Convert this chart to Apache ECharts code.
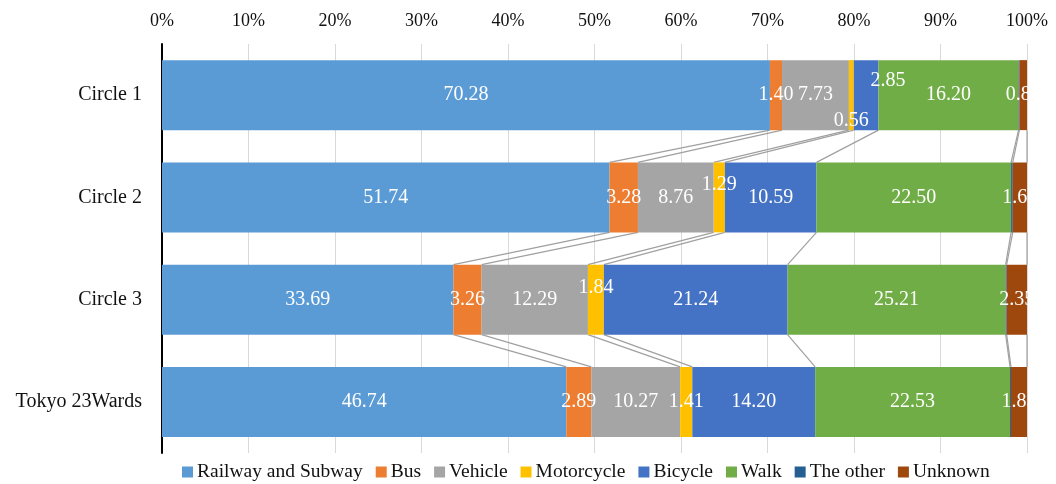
<!DOCTYPE html>
<html>
<head>
<meta charset="utf-8">
<script src="https://cdn.jsdelivr.net/npm/echarts@6/dist/echarts.min.js"></script>
<style>
  html, body { margin: 0; padding: 0; background: #fff; }
  #chart { width: 1056px; height: 484px; }
</style>
</head>
<body>
<div id="chart"></div>
<script>
// Modal share (%) by ring area
const categories = ['Circle 1', 'Circle 2', 'Circle 3', 'Tokyo 23Wards'];
const modes = ['Railway and Subway', 'Bus', 'Vehicle', 'Motorcycle', 'Bicycle', 'Walk', 'The other', 'Unknown'];

const railway    = [70.28, 51.74, 33.69, 46.74];
const bus        = [1.40, 3.28, 3.26, 2.89];
const vehicle    = [7.73, 8.76, 12.29, 10.27];
const motorcycle = [0.56, 1.29, 1.84, 1.41];
const bicycle    = [2.85, 10.59, 21.24, 14.20];
const walk       = [16.20, 22.50, 25.21, 22.53];
const other      = [0.10, 0.19, 0.12, 0.11];
const unknown    = [0.88, 1.65, 2.35, 1.85];

const tickLabels = ['0%', '10%', '20%', '30%', '40%', '50%', '60%', '70%', '80%', '90%', '100%'];

const seriesValues = [railway, bus, vehicle, motorcycle, bicycle, walk, other, unknown];
const colors = ['#5B9BD5', '#ED7D31', '#A5A5A5', '#FFC000', '#4472C4', '#70AD47', '#255E91', '#9E480E'];

const SERIF = "'Liberation Serif', 'Times New Roman', 'DejaVu Serif', serif";
const BAR_H = 70;

// Hand-placed label nudges for narrow segments: key = "series,category"
const labelNudge = {
  '3,0': [0, 26],
  '4,0': [22, -14],
  '3,1': [0, -13],
  '3,2': [0, -12]
};

const barSeries = modes.map((name, s) => ({
  name,
  type: 'bar',
  stack: 'total',
  barWidth: BAR_H,
  itemStyle: { color: colors[s] },
  label: {
    show: name !== 'The other',
    position: 'inside',
    color: '#fff',
    fontFamily: SERIF,
    fontSize: 20,
    formatter: p => p.value.toFixed(2)
  },
  data: seriesValues[s].map((v, c) => {
    const nudge = labelNudge[s + ',' + c];
    return nudge ? { value: v, label: { offset: nudge } } : v;
  })
}));

// Connector lines between the right edges of each segment on neighbouring bars
const cumulative = categories.map((_, c) => {
  let sum = 0;
  return seriesValues.map(arr => (sum += arr[c]));
});
const connectorData = [];
for (let c = 0; c < categories.length - 1; c++) {
  for (let s = 0; s < modes.length; s++) {
    connectorData.push([cumulative[c][s], cumulative[c + 1][s], c]);
  }
}

const connectorSeries = {
  name: 'connectors',
  type: 'custom',
  silent: true,
  z: 1,
  encode: { x: [0, 1], y: 2 },
  renderItem: (params, api) => {
    const c = api.value(2);
    const p1 = api.coord([api.value(0), c]);
    const p2 = api.coord([api.value(1), c + 1]);
    return {
      type: 'line',
      shape: { x1: p1[0], y1: p1[1] + BAR_H / 2, x2: p2[0], y2: p2[1] - BAR_H / 2 },
      style: { stroke: '#A0A0A0', lineWidth: 1.2 }
    };
  },
  data: connectorData
};

const chart = echarts.init(document.getElementById('chart'), null, { renderer: 'canvas' });
chart.setOption({
  animation: false,
  backgroundColor: '#fff',
  grid: { left: 162, right: 29, top: 44, bottom: 31, containLabel: false },
  legend: {
    data: modes,
    top: 457,
    left: 177,
    itemWidth: 11,
    itemHeight: 11,
    itemGap: 13,
    icon: 'rect',
    textStyle: { fontFamily: SERIF, fontSize: 19.5, color: '#111', padding: [0, 0, 0, -1] }
  },
  xAxis: {
    type: 'value',
    position: 'top',
    min: 0,
    max: 100,
    interval: 10,
    axisLine: { show: false },
    axisTick: { show: false },
    axisLabel: {
      margin: 14,
      fontFamily: SERIF,
      fontSize: 18,
      color: '#111',
      formatter: v => tickLabels[Math.round(v / 10)]
    },
    splitLine: { show: true, lineStyle: { color: '#D9D9D9', width: 1 } }
  },
  yAxis: {
    type: 'category',
    inverse: true,
    data: categories,
    axisLine: { show: true, lineStyle: { color: '#000', width: 2 } },
    axisTick: { show: false },
    axisLabel: { margin: 20, fontFamily: SERIF, fontSize: 20, color: '#111' }
  },
  series: [...barSeries, connectorSeries]
});
</script>
</body>
</html>
